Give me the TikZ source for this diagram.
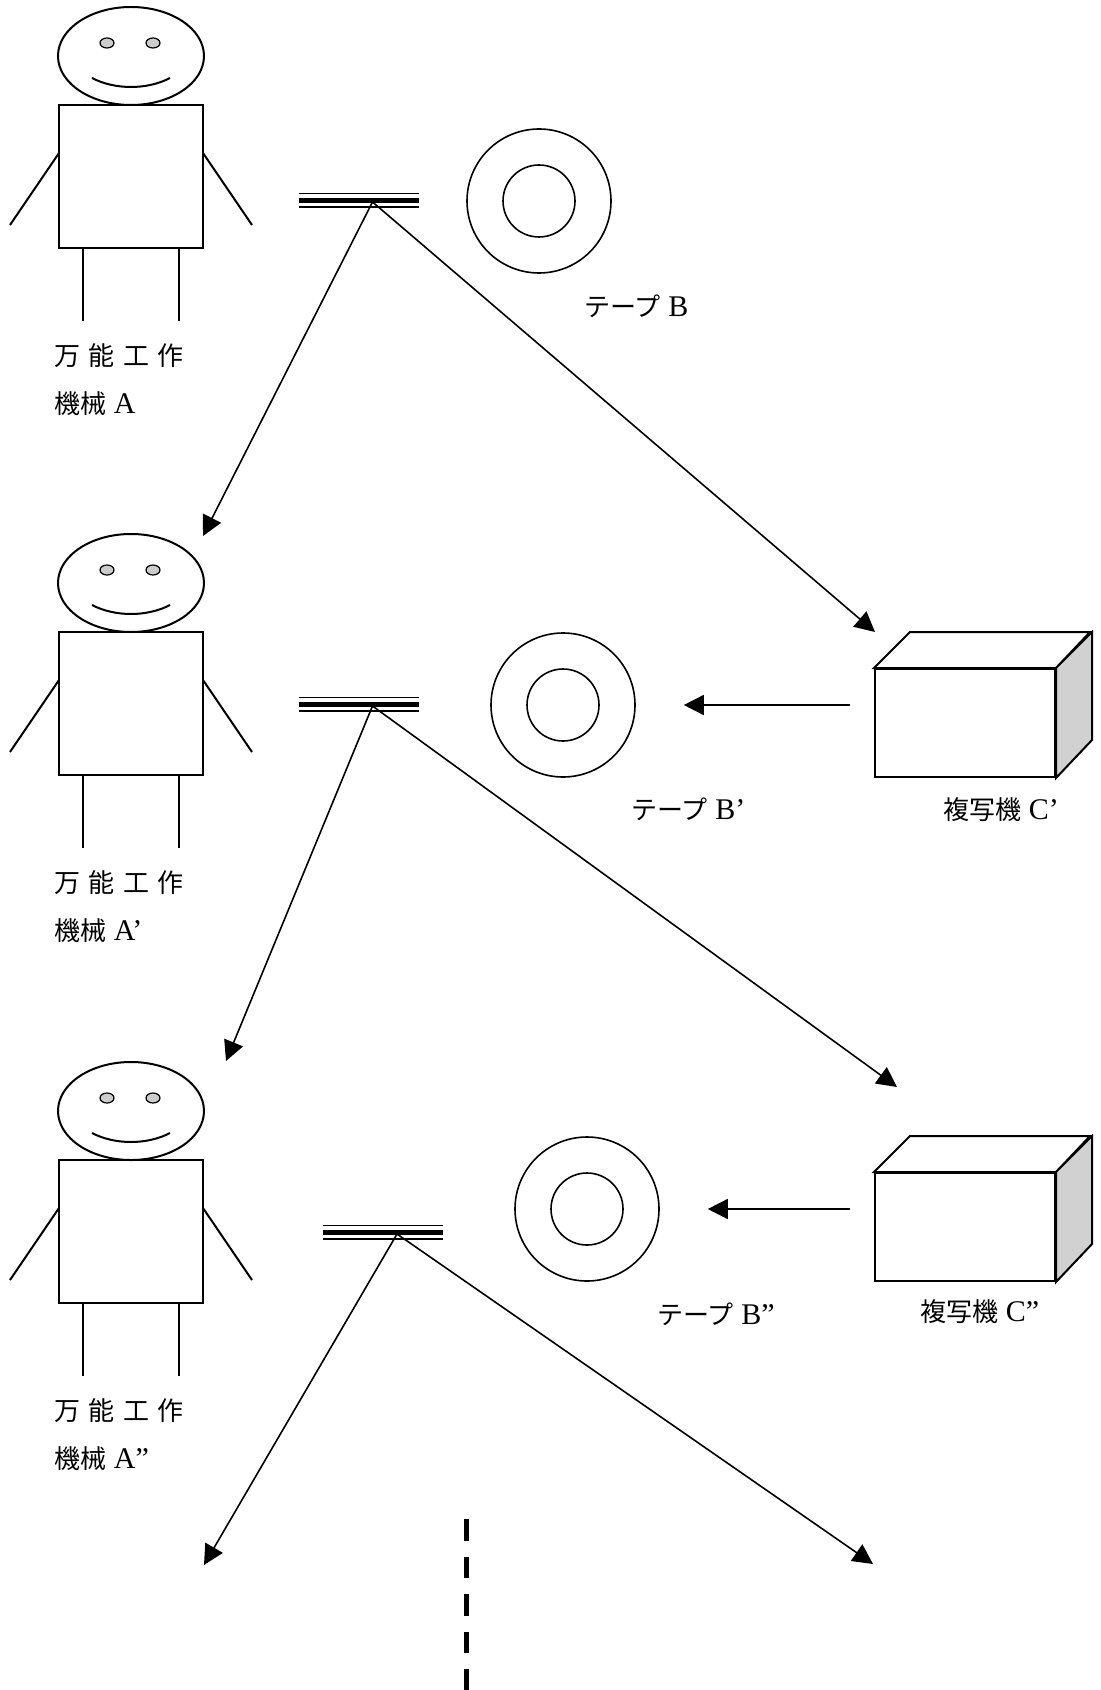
\documentclass[tikz,border=0pt]{standalone}
\usepackage{fontspec}
\setmainfont{Liberation Serif}
\newfontfamily\jafont{Noto Sans CJK JP}[WordSpace=1.45,Scale=0.867]
\usetikzlibrary{arrows.meta}
\definecolor{eyegray}{gray}{0.8}
\definecolor{sidegray}{gray}{0.82}

\begin{document}
\begin{tikzpicture}[
    x=0.5pt, y=-0.5pt,
    every node/.style={font=\fontsize{15}{17}\selectfont, inner sep=0pt},
    outline/.style={draw=black, line width=1pt},
    reel/.style={draw=black, line width=0.8pt, circle},
    copier/.style={draw=black, line width=1pt, fill=white,
                   minimum width=90pt, minimum height=54pt},
    strand/.style={line width=0.9pt},
    strandcore/.style={line width=2.6pt},
    flow/.style={-{Triangle[length=10pt, width=10pt]}, line width=0.8pt},
    caption/.style={anchor=west},
    continues/.style={line width=2.5pt, dash pattern=on 10.75pt off 8pt},
]

\useasboundingbox (0,0) rectangle (1101,1690);

% universal machines A, A', A'' down the left side
\foreach \dy/\i/\mk in {0/1/{}, 527/2/’, 1055/3/”} {
  \begin{scope}[shift={(0,\dy)}]
    \draw[outline] (131,56) ellipse [x radius=73, y radius=49];
    \filldraw[outline, line width=0.6pt, fill=eyegray] (107,43) ellipse [x radius=7, y radius=5];
    \filldraw[outline, line width=0.6pt, fill=eyegray] (153,43) ellipse [x radius=7, y radius=5];
    \draw[outline] (92,78) .. controls (115,90) and (147,90) .. (170,78);
    \draw[outline] (59,105) rectangle (203,248);
    \draw[outline] (59,153) -- (10,225);
    \draw[outline] (203,153) -- (252,225);
    \draw[outline] (83,248) -- (83,321);
    \draw[outline] (179,248) -- (179,321);
    \node[caption] (name\i) at (54,356) {\jafont 万 能 工 作};
    \node[caption] (kind\i) at (54,404) {{\jafont 機械} A\mk};
  \end{scope}
}

% instruction strips, arrows leave from just right of the middle
\foreach \sx/\sy/\i in {358.5/200.5/1, 358.5/704.5/2, 383/1232.5/3} {
  \begin{scope}[shift={(\sx,\sy)}]
    \draw[strand] (-60,-7) -- (60,-7);
    \draw[strandcore] (-60,0) -- (60,0);
    \draw[strand] (-60,6.5) -- (60,6.5);
    \coordinate (fork\i) at (14,1.5);
  \end{scope}
}

% tapes B, B', B''
\foreach \tx/\ty/\i in {539/201/1, 563/705/2, 587/1209/3} {
  \node[reel, minimum size=72pt] (tape\i) at (\tx,\ty) {};
  \node[reel, minimum size=36pt] (hub\i) at (\tx,\ty) {};
}
\node[caption] (tapelbl1) at (584,306) {{\jafont テープ} B};
\node[caption] (tapelbl2) at (631,809) {{\jafont テープ} B’};
\node[caption] (tapelbl3) at (657,1314) {{\jafont テープ} B”};

% copiers C', C'' as boxes
\foreach \cy/\i in {723/2, 1227/3} {
  \node[copier] (copier\i) at (965,\cy) {};
  \filldraw[outline, fill=white] (copier\i.north west) -- ++(36,-36) -- ++(180,0)
      -- (copier\i.north east) -- cycle;
  \filldraw[outline, fill=sidegray] (copier\i.north east) -- ++(36,-36) -- ++(0,108)
      -- (copier\i.south east) -- cycle;
}
\node[caption] (copylbl2) at (943,810) {{\jafont 複写機} C’};
\node[caption] (copylbl3) at (920,1312) {{\jafont 複写機} C”};

% free arrow ends
\coordinate (down1) at (203,536);
\coordinate (cross1) at (875,632);
\coordinate (down2) at (226,1061);
\coordinate (cross2) at (897,1087);
\coordinate (down3) at (204,1565);
\coordinate (cross3) at (873,1564);

\foreach \i in {1,2,3} {
  \draw[flow] (fork\i) -- (down\i);
  \draw[flow] (fork\i) -- (cross\i);
}

% copier output back to a fresh tape
\draw[flow, shorten <=12pt, shorten >=24pt] (copier2.west |- tape2) -- (tape2.east);
\draw[flow, shorten <=12pt, shorten >=24pt] (copier3.west |- tape3) -- (tape3.east);

% and so on
\draw[continues] (466,1519) -- (466,1690);

\end{tikzpicture}
\end{document}
